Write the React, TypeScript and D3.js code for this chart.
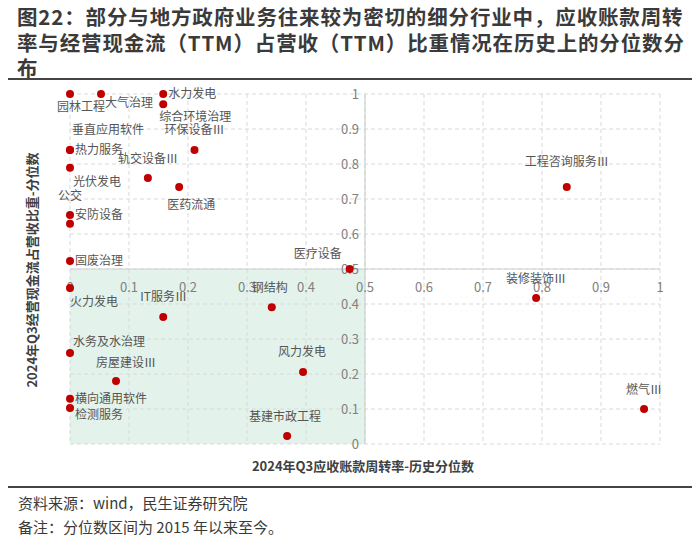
import React from "react";
import * as d3 from "d3";

const names = ["园林工程","大气治理","水力发电","综合环境治理","环保设备Ⅲ","垂直应用软件","热力服务","轨交设备Ⅲ","医药流通","光伏发电","公交","安防设备","固废治理","医疗设备","工程咨询服务Ⅲ","火力发电","IT服务Ⅲ","钢结构","水务及水治理","房屋建设Ⅲ","风力发电","横向通用软件","检测服务","基建市政工程","装修装饰Ⅲ","燃气Ⅲ"];
const xVals = [0,0.0525,0.158,0.158,0.211,0,0,0.132,0.185,0,0,0,0,0.474,0.842,0,0.158,0.342,0,0.078,0.395,0,0,0.368,0.79,0.973];
const yVals = [1,1,1,0.971,0.84,0.84,0.84,0.76,0.734,0.789,0.629,0.654,0.523,0.5,0.734,0.446,0.363,0.391,0.26,0.18,0.206,0.129,0.103,0.023,0.417,0.1];
// label offsets (dx, dy)
const labelDx = [-13,4,5,-4,-30,2,5,-30,-12,3,-12,5,5,-56,-42,0,-23,-20,3,-20,-25,5,5,-38,-30,-18];
const labelDy = [17,13,4,17,-16,-16,4,-15,22,18,-24,4,4,-11,-21,18,-16,-15,-7,-14,-16,4,11,-15,-15,-15];
const ticks = [0,0.1,0.2,0.3,0.4,0.5,0.6,0.7,0.8,0.9,1];

const titleLines = ["图22：部分与地方政府业务往来较为密切的细分行业中，应收账款周转","率与经营现金流（TTM）占营收（TTM）比重情况在历史上的分位数分","布"];

export default function App() {
  const W = 700, H = 542;
  const x = d3.scaleLinear().domain([0, 1]).range([70, 660]);
  const y = d3.scaleLinear().domain([0, 1]).range([444, 94]);
  const font = "'Noto Sans CJK SC', 'Noto Sans', sans-serif";
  const fmt = (v: number) => (v === 0 || v === 1 ? String(v) : d3.format(".1f")(v));
  return (
    <svg width={W} height={H} style={{ position: "absolute", left: 0, top: 0, fontFamily: font }}>
      <rect width={W} height={H} fill="#fff" />
      {titleLines.map((t, i) => (
        <text key={i} x={17} y={25 + i * 25.5} fontSize={20.5} letterSpacing={0.85} fontWeight="bold" fill="#3a3a3a">{t}</text>
      ))}
      <line x1={8} x2={692} y1={79} y2={79} stroke="#444" strokeWidth={2} />
      <rect x={x(0)} y={y(0.5)} width={x(0.5) - x(0)} height={y(0) - y(0.5)} fill="#e3f3eb" />
      {ticks.map((t) => (
        <g key={"g" + t}>
          <line x1={x(t)} x2={x(t)} y1={y(1)} y2={y(0)} stroke="#d9d9d9" strokeDasharray="4,3" />
          <line x1={x(0)} x2={x(1)} y1={y(t)} y2={y(t)} stroke="#d9d9d9" strokeDasharray="4,3" />
        </g>
      ))}
      <line x1={x(0.5)} x2={x(0.5)} y1={y(1)} y2={y(0)} stroke="#c8d4ce" strokeWidth={1.2} />
      <line x1={x(0)} x2={x(1)} y1={y(0.5)} y2={y(0.5)} stroke="#d0d0d0" strokeWidth={1.2} />
      {ticks.map((t) => (
        <text key={"y" + t} x={x(0.5) - 6} y={y(t) + 5} textAnchor="end" fontSize={13} fill="#808080">{fmt(t)}</text>
      ))}
      {ticks.map((t) => (
        <text key={"x" + t} x={x(t)} y={y(0.5) + 23} textAnchor="middle" fontSize={13} fill="#808080">{fmt(t)}</text>
      ))}
      {names.map((n, i) => (
        <circle key={"c" + i} cx={x(xVals[i])} cy={y(yVals[i])} r={4} fill="#c00000" />
      ))}
      {names.map((n, i) => (
        <text key={"l" + i} x={x(xVals[i]) + labelDx[i]} y={y(yVals[i]) + labelDy[i]} fontSize={12} fill="#555">{n}</text>
      ))}
      <text transform={`translate(37,270) rotate(-90)`} textAnchor="middle" fontSize={13} fontWeight="bold" fill="#404040">2024年Q3经营现金流占营收比重-分位数</text>
      <text x={363} y={471} textAnchor="middle" fontSize={13} fontWeight="bold" fill="#404040">2024年Q3应收账款周转率-历史分位数</text>
      <line x1={8} x2={692} y1={487} y2={487} stroke="#444" strokeWidth={2} />
      <text x={18} y={509} fontSize={15} fill="#3a3a3a">资料来源：wind，民生证券研究院</text>
      <text x={18} y={533} fontSize={15} fill="#3a3a3a">备注：分位数区间为 2015 年以来至今。</text>
    </svg>
  );
}
